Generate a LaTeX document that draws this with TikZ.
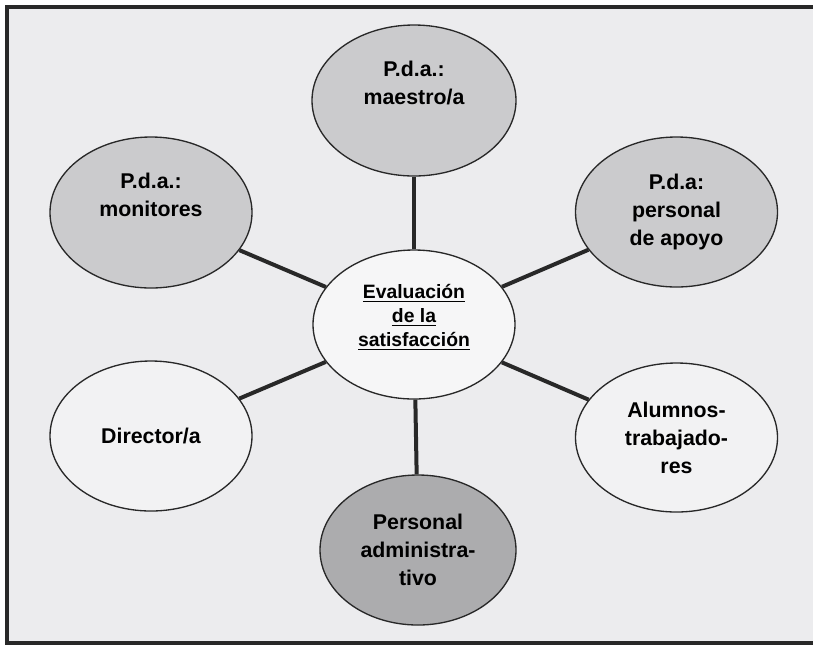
\documentclass[tikz,border=0pt]{standalone}
\usepackage{fontspec}
\setmainfont{Liberation Sans}
\usetikzlibrary{shapes.geometric}

\definecolor{hintergrund}{RGB}{236,236,238}
\definecolor{hell}{RGB}{242,242,243}
\definecolor{mittel}{RGB}{203,203,205}
\definecolor{dunkel}{RGB}{172,172,174}
\definecolor{linie}{RGB}{40,40,40}

\tikzset{
	blase/.style={ellipse, draw=linie, line width=1pt, inner sep=0pt,
		minimum width=151.5pt, minimum height=112.5pt,
		align=center, font=\fontsize{16}{21}\selectfont\bfseries},
	verbinder/.style={draw=linie, line width=3pt}
}

\begin{document}
\begin{tikzpicture}[x=0.75pt, y=-0.75pt]
	\useasboundingbox (0,0) rectangle (813,644);
	% Rahmen
	\filldraw[line width=3pt, draw=linie, fill=hintergrund] (6.5, 7) rectangle (814.5,
	642.5);

	% Blasen
	\node[blase, fill=hell!70!white, minimum height=111.75pt,
		font=\fontsize{14.5}{18}\selectfont\bfseries] (mitte) at (414, 324.5)
		{\underline{Evaluación}\\\underline{de la}\\\underline{satisfacción}\\[-5pt]};
	\node[blase, fill=mittel, minimum width=153pt, minimum height=113.25pt] (maestro) at (414, 100.5)
		{P.d.a.:\\maestro/a\\ \strut};
	\node[blase, fill=mittel, minimum height=113.25pt] (monitores) at (151, 212.5)
		{P.d.a.:\\monitores\\ \strut};
	\node[blase, fill=mittel] (apoyo) at (676.5, 212)
		{P.d.a:\\personal\\de apoyo};
	\node[blase, fill=hell] (director) at (151, 436)
		{Director/a};
	\node[blase, fill=hell, minimum height=111.75pt] (alumnos) at (676.5, 437.5)
		{Alumnos-\\trabajado-\\res};
	\node[blase, fill=dunkel, minimum width=147pt] (admin) at (418, 550)
		{Personal\\administra-\\tivo};

	% Verbindungen
	\foreach \ziel in {maestro, monitores, apoyo, director, alumnos, admin}
		\draw[verbinder] (mitte) -- (\ziel);
\end{tikzpicture}
\end{document}
